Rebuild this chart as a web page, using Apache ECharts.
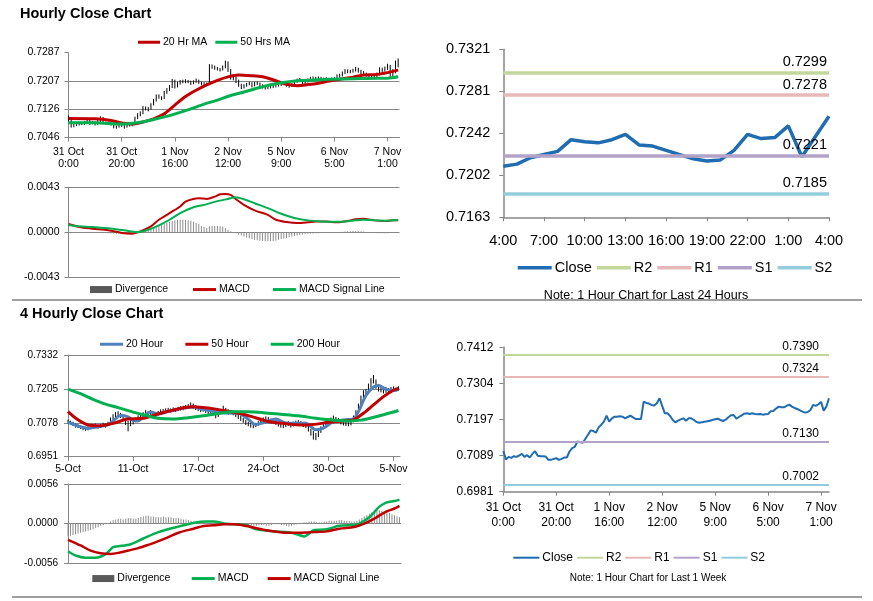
<!DOCTYPE html>
<html><head><meta charset="utf-8">
<script src="https://cdn.jsdelivr.net/npm/echarts@6.0.0/dist/echarts.min.js"></script>
<style>html,body{margin:0;padding:0;background:#fff}#c{width:873px;height:601px}</style>
</head><body><div id="c"></div>
<script>
// ================= DATA =================
// Hourly (last week) x-axis labels, placed at hour index
const hourLabels = ['31 Oct\n0:00','31 Oct\n20:00','1 Nov\n16:00','2 Nov\n12:00','5 Nov\n9:00','6 Nov\n5:00','7 Nov\n1:00'];
const hourLabelPos = [0,20,40,60,80,100,120];

// Panel 1: hourly price bars [low, high]
const p1YTicks = ['0.7046','0.7126','0.7207','0.7287'];
const hourlyBars = [
[0.7092,0.7108],[0.7074,0.7104],[0.7075,0.7090],[0.7078,0.7090],[0.7080,0.7091],[0.7081,0.7090],[0.7082,0.7093],[0.7086,0.7097],[0.7082,0.7096],[0.7083,0.7093],
[0.7080,0.7092],[0.7082,0.7098],[0.7090,0.7106],[0.7085,0.7104],[0.7083,0.7091],[0.7083,0.7091],[0.7080,0.7090],[0.7072,0.7088],[0.7071,0.7080],[0.7074,0.7083],
[0.7076,0.7086],[0.7071,0.7083],[0.7074,0.7083],[0.7077,0.7087],[0.7078,0.7088],[0.7082,0.7105],[0.7098,0.7115],[0.7106,0.7120],[0.7112,0.7135],[0.7123,0.7134],
[0.7120,0.7132],[0.7125,0.7143],[0.7137,0.7155],[0.7148,0.7168],[0.7156,0.7168],[0.7152,0.7163],[0.7155,0.7178],[0.7170,0.7186],[0.7178,0.7195],[0.7186,0.7212],
[0.7185,0.7210],[0.7188,0.7204],[0.7196,0.7209],[0.7200,0.7210],[0.7200,0.7211],[0.7200,0.7209],[0.7195,0.7207],[0.7197,0.7208],[0.7201,0.7213],[0.7198,0.7210],
[0.7194,0.7204],[0.7194,0.7203],[0.7194,0.7202],[0.7196,0.7254],[0.7241,0.7253],[0.7238,0.7250],[0.7236,0.7246],[0.7233,0.7243],[0.7236,0.7250],[0.7242,0.7264],
[0.7232,0.7262],[0.7210,0.7240],[0.7208,0.7222],[0.7200,0.7218],[0.7190,0.7210],[0.7183,0.7198],[0.7185,0.7197],[0.7190,0.7201],[0.7194,0.7204],[0.7188,0.7203],
[0.7191,0.7204],[0.7195,0.7205],[0.7190,0.7202],[0.7185,0.7197],[0.7182,0.7192],[0.7183,0.7193],[0.7185,0.7194],[0.7186,0.7195],[0.7188,0.7197],[0.7190,0.7199],
[0.7192,0.7201],[0.7194,0.7203],[0.7190,0.7202],[0.7187,0.7198],[0.7190,0.7200],[0.7194,0.7207],[0.7201,0.7213],[0.7205,0.7215],[0.7195,0.7212],[0.7197,0.7208],
[0.7202,0.7213],[0.7206,0.7218],[0.7209,0.7219],[0.7208,0.7218],[0.7209,0.7219],[0.7208,0.7218],[0.7207,0.7216],[0.7207,0.7217],[0.7206,0.7215],[0.7207,0.7216],
[0.7208,0.7217],[0.7210,0.7225],[0.7216,0.7227],[0.7219,0.7233],[0.7226,0.7240],[0.7228,0.7239],[0.7228,0.7238],[0.7230,0.7241],[0.7233,0.7246],[0.7230,0.7244],
[0.7226,0.7238],[0.7223,0.7234],[0.7219,0.7230],[0.7215,0.7226],[0.7212,0.7222],[0.7213,0.7223],[0.7216,0.7230],[0.7222,0.7245],[0.7230,0.7244],[0.7233,0.7247],
[0.7238,0.7255],[0.7218,0.7252],[0.7220,0.7240],[0.7228,0.7264],[0.7245,0.7270]];
const ma20Hr = [[0,0.7100],[10,0.7099],[16,0.7094],[20,0.7087],[24,0.7084],[28,0.7090],[32,0.7099],[36,0.7113],[40,0.7138],[44,0.7162],[48,0.7180],[52,0.7195],[56,0.7208],[60,0.7218],[64,0.7223],[69,0.7221],[73,0.7218],[76,0.7212],[79,0.7204],[82,0.7197],[86,0.7193],[90,0.7196],[94,0.7200],[98,0.7206],[102,0.7211],[107,0.7217],[111,0.7223],[116,0.7225],[120,0.7230],[124,0.7237]];
const ma50Hr = [[0,0.7088],[10,0.7088],[20,0.7084],[26,0.7088],[32,0.7097],[38,0.7108],[44,0.7122],[50,0.7138],[56,0.7152],[61,0.7165],[67,0.7177],[73,0.7190],[80,0.7201],[86,0.7207],[92,0.7209],[98,0.7211],[104,0.7212],[110,0.7213],[116,0.7214],[120,0.7214],[124,0.7218]];

// Panel 2: hourly MACD
const p2YTicks = ['-0.0043','0.0000','0.0043'];
const macd1h = [[0,0.00079],[4,0.00051],[9,0.00035],[15,0.00019],[20,-0.00006],[24,-0.00013],[27,0.00009],[31,0.00057],[34,0.0012],[38,0.00183],[42,0.00247],[44,0.00294],[47,0.00319],[49,0.00325],[52,0.00319],[55,0.00341],[57,0.00363],[59,0.00367],[61,0.00357],[63,0.00316],[66,0.00262],[70,0.00209],[75,0.00167],[78,0.0012],[82,0.00098],[86,0.00088],[90,0.00095],[93,0.00104],[97,0.00104],[101,0.00095],[105,0.00107],[108,0.00126],[111,0.0013],[115,0.00114],[119,0.00107],[122,0.00114],[124,0.00114]];
const signal1h = [[0,0.0007],[4,0.00057],[9,0.00051],[15,0.00038],[21,0.00019],[26,0.00003],[30,0.00025],[34,0.00066],[38,0.0012],[42,0.00183],[47,0.0024],[51,0.00262],[55,0.00291],[60,0.00319],[63,0.00335],[66,0.00316],[70,0.00278],[75,0.00231],[80,0.00177],[85,0.00136],[90,0.00114],[95,0.00104],[100,0.00101],[104,0.00104],[108,0.00114],[111,0.0012],[115,0.00114],[119,0.00111],[124,0.00117]];
const divergence1h = [
-0.00003,-0.00004,-0.00004,-0.00005,-0.00004,-0.00005,-0.00005,-0.00006,-0.00006,-0.00005,
-0.00006,-0.00007,-0.00007,-0.00008,-0.00008,-0.0001,-0.00011,-0.00012,-0.00013,-0.00014,
-0.00015,-0.00015,-0.00014,-0.00013,-0.0001,-0.00005,0.00005,0.0001,0.00018,0.00025,
0.00033,0.0004,0.0005,0.0006,0.0007,0.00078,0.00085,0.00092,0.001,0.00108,
0.00115,0.0012,0.0012,0.0012,0.00118,0.00115,0.0011,0.001,0.0009,0.0008,
0.0006,0.0005,0.0004,0.00055,0.0006,0.0006,0.0006,0.00058,0.00055,0.0004,
0.00025,0.0001,0.00002,-0.0001,-0.0002,-0.0003,-0.0004,-0.0005,-0.0006,-0.00065,
-0.0007,-0.00075,-0.0008,-0.00082,-0.00085,-0.00085,-0.00084,-0.00082,-0.0008,-0.00072,
-0.00065,-0.0006,-0.00054,-0.00048,-0.0004,-0.00035,-0.0003,-0.00025,-0.0002,-0.00017,
-0.00015,-0.00013,-0.00011,-0.0001,-0.00008,-0.00006,-0.00005,-0.00004,-0.00003,-0.00002,
-0.00001,0.00001,0.00003,0.00005,0.00007,0.00009,0.0001,0.00012,0.00012,0.00012,
0.0001,0.00008,0.00004,0,-0.00004,-0.00007,-0.0001,-0.0001,-0.0001,-0.00009,
-0.00008,-0.00006,-0.00004,-0.00002,-0.00001];

// Panel 3: last 24 hours close with pivots
const dayLabels = ['4:00','7:00','10:00','13:00','16:00','19:00','22:00','1:00','4:00'];
const dayLabelPos = [0,3,6,9,12,15,18,21,24];
const dayClose = [0.7211,0.7213,0.7219,0.7222,0.7225,0.7236,0.7234,0.7233,0.7236,0.7241,0.7231,0.7230,0.7226,0.7222,0.7218,0.7216,0.7217,0.7226,0.7241,0.7237,0.7238,0.7249,0.7220,0.7239,0.7258];
const pivotNames = ['R2','R1','S1','S2'];
const dayPivots = [0.7299,0.7278,0.7221,0.7185];
const p3YTicks = ['0.7163','0.7202','0.7242','0.7281','0.7321'];

// Panel 4: 4-hourly price bars [low, high] and moving averages
const fourHourLabels = ['5-Oct','11-Oct','17-Oct','24-Oct','30-Oct','5-Nov'];
const fourHourLabelPos = [0,26,52,78,104,130];
const p4YTicks = ['0.6951','0.7078','0.7205','0.7332'];
const fourHourBars = [
[0.7076,0.7090],[0.7072,0.7086],[0.7066,0.7082],[0.7060,0.7076],[0.7058,0.7072],[0.7055,0.7068],[0.7050,0.7066],[0.7048,0.7063],[0.7050,0.7065],[0.7054,0.7068],
[0.7058,0.7072],[0.7060,0.7075],[0.7056,0.7070],[0.7058,0.7074],[0.7062,0.7078],[0.7060,0.7076],[0.7066,0.7082],[0.7075,0.7098],[0.7090,0.7110],[0.7098,0.7118],
[0.7102,0.7121],[0.7096,0.7115],[0.7085,0.7106],[0.7070,0.7092],[0.7046,0.7085],[0.7065,0.7088],[0.7072,0.7090],[0.7080,0.7098],[0.7088,0.7106],[0.7095,0.7114],
[0.7100,0.7118],[0.7105,0.7125],[0.7102,0.7122],[0.7108,0.7126],[0.7104,0.7120],[0.7100,0.7118],[0.7105,0.7122],[0.7110,0.7128],[0.7112,0.7130],[0.7115,0.7132],
[0.7118,0.7134],[0.7116,0.7132],[0.7120,0.7136],[0.7118,0.7134],[0.7122,0.7138],[0.7124,0.7140],[0.7125,0.7142],[0.7128,0.7145],[0.7130,0.7148],[0.7135,0.7154],
[0.7130,0.7150],[0.7126,0.7144],[0.7122,0.7140],[0.7118,0.7136],[0.7120,0.7138],[0.7115,0.7132],[0.7110,0.7128],[0.7112,0.7130],[0.7105,0.7124],[0.7095,0.7118],
[0.7100,0.7120],[0.7110,0.7128],[0.7118,0.7142],[0.7112,0.7134],[0.7108,0.7128],[0.7110,0.7126],[0.7106,0.7124],[0.7100,0.7118],[0.7092,0.7112],[0.7085,0.7104],
[0.7078,0.7096],[0.7070,0.7088],[0.7065,0.7082],[0.7060,0.7078],[0.7058,0.7074],[0.7062,0.7078],[0.7068,0.7084],[0.7075,0.7092],[0.7080,0.7098],[0.7085,0.7102],
[0.7082,0.7100],[0.7076,0.7094],[0.7078,0.7096],[0.7070,0.7088],[0.7064,0.7082],[0.7060,0.7078],[0.7058,0.7076],[0.7062,0.7080],[0.7066,0.7084],[0.7060,0.7078],
[0.7064,0.7082],[0.7068,0.7086],[0.7072,0.7088],[0.7066,0.7084],[0.7062,0.7080],[0.7058,0.7076],[0.7045,0.7068],[0.7030,0.7055],[0.7015,0.7048],[0.7013,0.7040],
[0.7025,0.7052],[0.7040,0.7065],[0.7055,0.7076],[0.7065,0.7084],[0.7072,0.7090],[0.7080,0.7098],[0.7085,0.7105],[0.7082,0.7100],[0.7078,0.7096],[0.7072,0.7092],
[0.7068,0.7088],[0.7066,0.7086],[0.7065,0.7084],[0.7068,0.7090],[0.7080,0.7105],[0.7095,0.7125],[0.7115,0.7150],[0.7140,0.7180],[0.7160,0.7200],[0.7175,0.7205],
[0.7190,0.7225],[0.7210,0.7245],[0.7225,0.7257],[0.7205,0.7240],[0.7195,0.7222],[0.7192,0.7215],[0.7188,0.7210],[0.7190,0.7212],[0.7192,0.7208],[0.7194,0.7212],
[0.7196,0.7214],[0.7195,0.7210],[0.7198,0.7215]];
const ma20Four = [[0,0.7080],[4,0.7066],[8,0.7057],[12,0.7063],[16,0.7070],[18,0.7085],[21,0.7105],[24,0.7100],[26,0.7087],[28,0.7085],[30,0.7098],[33,0.7118],[36,0.7111],[40,0.7120],[45,0.7131],[50,0.7137],[54,0.7128],[58,0.7121],[62,0.7115],[68,0.7114],[72,0.7091],[75,0.7071],[79,0.7081],[83,0.7092],[87,0.7077],[91,0.7076],[95,0.7076],[99,0.7052],[102,0.7058],[106,0.7082],[110,0.7089],[114,0.7093],[116,0.7120],[119,0.7180],[122,0.7212],[124,0.7218],[127,0.7203],[130,0.7200],[132,0.7203]];
const ma50Four = [[0,0.7120],[4,0.7089],[8,0.7070],[13,0.7067],[18,0.7076],[24,0.7092],[30,0.7095],[37,0.7114],[44,0.7130],[50,0.7138],[57,0.7132],[64,0.7121],[72,0.7105],[80,0.7083],[86,0.7076],[91,0.7071],[96,0.7070],[100,0.7074],[104,0.7080],[110,0.7085],[114,0.7089],[118,0.7114],[122,0.7145],[126,0.7176],[130,0.7200],[132,0.7207]];
const ma200Four = [[0,0.7204],[5,0.7187],[10,0.7166],[15,0.7148],[20,0.7135],[26,0.7118],[31,0.7106],[36,0.7095],[42,0.7092],[48,0.7097],[54,0.7104],[60,0.7113],[66,0.7119],[72,0.7119],[78,0.7116],[85,0.7110],[92,0.7104],[99,0.7095],[106,0.7088],[113,0.7085],[117,0.7088],[121,0.7096],[126,0.7108],[132,0.7124]];

// Panel 5: 4-hourly MACD
const p5YTicks = ['-0.0056','0.0000','0.0056'];
const macd4h = [[0,-0.0039],[3,-0.0045],[7,-0.0048],[11,-0.0048],[15,-0.0043],[18,-0.0033],[20,-0.0032],[25,-0.0029],[30,-0.0021],[36,-0.0012],[43,-0.0005],[50,0.0001],[55,0.0003],[58,0.0003],[63,0],[71,-0.0002],[74,-0.0007],[77,-0.0009],[82,-0.0011],[88,-0.0012],[92,-0.0016],[94,-0.0018],[98,-0.0009],[103,-0.0008],[108,-0.0003],[114,-0.0002],[116,0],[120,0.0009],[124,0.0024],[127,0.0030],[130,0.0032],[132,0.0034]];
const signal4h = [[0,-0.00228],[5,-0.00308],[9,-0.0038],[13,-0.00418],[17,-0.00427],[20,-0.00413],[24,-0.0038],[28,-0.00346],[32,-0.00299],[36,-0.00247],[40,-0.0019],[44,-0.00128],[50,-0.00071],[54,-0.00033],[58,-0.00024],[62,-0.0001],[66,-0.0001],[71,-0.00033],[76,-0.00071],[82,-0.00109],[87,-0.00128],[92,-0.00128],[98,-0.00119],[103,-0.00109],[108,-0.00071],[114,-0.00047],[118,0],[122,0.00071],[126,0.00157],[130,0.00214],[132,0.00252]];
const divergence4h = [
-0.0018,-0.0017,-0.0016,-0.0015,-0.0014,-0.0013,-0.0012,-0.0011,-0.001,-0.0009,
-0.0008,-0.0006,-0.0005,-0.0003,-0.0002,-0.0001,0.0001,0.0003,0.0005,0.0006,
0.0007,0.0007,0.0006,0.0007,0.0008,0.0008,0.0007,0.0007,0.0008,0.0009,
0.001,0.0011,0.0011,0.001,0.001,0.0009,0.0009,0.0009,0.001,0.0009,
0.0009,0.0009,0.0008,0.0008,0.0008,0.0007,0.0006,0.0006,0.0005,0.0004,
0.0003,0.0003,0.0002,0.0001,0.0001,0,0,0.0001,0,-0.0001,
0,0,-0.0001,-0.0001,-0.0001,-0.0002,-0.0002,-0.0003,-0.0003,-0.0003,
-0.0004,-0.0004,-0.0004,-0.0003,-0.0003,-0.0003,-0.0002,-0.0002,-0.0002,-0.0003,
-0.0003,-0.0002,-0.0001,-0.0001,-0.0001,-0.0002,-0.0002,-0.0003,-0.0004,-0.0003,
-0.0002,-0.0001,0,0.0001,0.0002,0.0002,0.0003,0.0003,0.0003,0.0002,
0.0002,0.0002,0.0003,0.0003,0.0004,0.0004,0.0004,0.0004,0.0005,0.0005,
0.0004,0.0004,0.0004,0.0003,0.0003,0.0004,0.0006,0.0008,0.001,0.0012,
0.0014,0.0016,0.0018,0.0019,0.0019,0.0018,0.0017,0.0016,0.0015,0.0013,
0.0012,0.001,0.0009];

// Panel 6: hourly close for the last week with pivots
const weekClose = [
0.7102,0.7077,0.7085,0.7082,0.7087,0.7085,0.7089,0.7094,0.7085,0.7090,
0.7083,0.7094,0.7102,0.7088,0.7087,0.7087,0.7086,0.7076,0.7076,0.7079,
0.7081,0.7076,0.7079,0.7083,0.7083,0.7101,0.7111,0.7115,0.7131,0.7129,
0.7127,0.7139,0.7151,0.7164,0.7162,0.7157,0.7173,0.7181,0.7190,0.7208,
0.7190,0.7200,0.7205,0.7205,0.7206,0.7205,0.7200,0.7204,0.7208,0.7203,
0.7198,0.7198,0.7198,0.7250,0.7246,0.7244,0.7240,0.7238,0.7245,0.7260,
0.7237,0.7215,0.7215,0.7207,0.7195,0.7188,0.7193,0.7197,0.7200,0.7193,
0.7200,0.7200,0.7195,0.7189,0.7187,0.7188,0.7190,0.7191,0.7193,0.7195,
0.7197,0.7199,0.7195,0.7192,0.7196,0.7203,0.7209,0.7210,0.7199,0.7204,
0.7209,0.7214,0.7215,0.7213,0.7215,0.7213,0.7212,0.7213,0.7211,0.7212,
0.7213,0.7221,0.7222,0.7229,0.7235,0.7233,0.7233,0.7237,0.7241,0.7235,
0.7231,0.7228,0.7224,0.7220,0.7217,0.7219,0.7225,0.7240,0.7237,0.7242,
0.7249,0.7223,0.7235,0.7260];
const weekPivots = [0.7390,0.7324,0.7130,0.7002];
const p6YTicks = ['0.6981','0.7089','0.7197','0.7304','0.7412'];

// ================= CHART =================
const FONT = '"Liberation Sans", Arial, sans-serif';
const GRAY = '#868686';
const RED = '#c00000', GREEN = '#00b050', BLUE = '#4f81bd', CLOSE = '#1f6cb0';
const PIVOT_COLORS = ['#c3d69b','#e6b9b8','#b3a2c7','#93cddd'];
const strip = n => n.split('|')[1];

function yAx(gi, ticks, o) {
  const mn = parseFloat(ticks[0]), mx = parseFloat(ticks[ticks.length - 1]);
  const iv = (mx - mn) / (ticks.length - 1);
  return {
    type: 'value', gridIndex: gi, min: mn, max: mx, interval: iv, scale: true,
    axisLine: {show: true, onZero: false, lineStyle: {color: GRAY, width: o.aw || 1}},
    axisTick: {show: true, length: 4, lineStyle: {color: GRAY}},
    axisLabel: {fontSize: o.fs, color: '#000', fontFamily: FONT, margin: o.margin,
      formatter: v => { const k = Math.round((v - mn) / iv); return ticks[k] !== undefined ? ticks[k] : ''; }},
    splitLine: {show: !!o.split, showMinLine: false, showMaxLine: !!o.maxLine, lineStyle: {color: GRAY, width: 1}}
  };
}
function xAx(gi, mx, pos, labels, o) {
  return {
    type: 'value', gridIndex: gi, min: 0, max: mx,
    axisLine: {show: true, onZero: false, lineStyle: {color: GRAY, width: o.aw || 1}},
    axisTick: {show: !!labels, length: 4, customValues: pos, lineStyle: {color: GRAY}},
    axisLabel: {show: !!labels, customValues: pos, fontSize: o.fs, lineHeight: o.lh, margin: o.margin,
      color: '#000', fontFamily: FONT,
      formatter: v => { const k = pos.indexOf(v); return k >= 0 ? labels[k] : ''; }},
    splitLine: {show: false}
  };
}
function barSeries(name, xi, bars) {
  return {
    type: 'custom', name: name, xAxisIndex: xi, yAxisIndex: xi, silent: true,
    data: bars.map((b, i) => [i, b[0], b[1]]), encode: {x: 0, y: [1, 2]},
    renderItem: (p, api) => {
      const a = api.coord([api.value(0), api.value(1)]);
      const b = api.coord([api.value(0), api.value(2)]);
      return {type: 'line', shape: {x1: a[0], y1: a[1], x2: b[0], y2: b[1]}, style: {stroke: '#000', lineWidth: 1}};
    }
  };
}
function lineSeries(name, xi, data, color, width, smooth) {
  return {type: 'line', name: name, xAxisIndex: xi, yAxisIndex: xi, data: data, color: color,
    showSymbol: false, smooth: smooth, lineStyle: {color: color, width: width}, silent: true};
}
function divSeries(name, xi, vals) {
  return {type: 'bar', name: name, xAxisIndex: xi, yAxisIndex: xi, data: vals.map((v, i) => [i, v]),
    barWidth: 1, color: '#8c8c8c', silent: true};
}
function pivotSeries(prefix, xi, k, values, width, fs, dist) {
  return {type: 'line', name: prefix + pivotNames[k], xAxisIndex: xi, yAxisIndex: xi, data: [],
    color: PIVOT_COLORS[k],
    markLine: {symbol: ['none', 'none'], silent: true, animation: false, precision: 4,
      data: [{yAxis: values[k]}],
      lineStyle: {color: PIVOT_COLORS[k], width: width, type: 'solid'},
      emphasis: {disabled: true},
      label: {show: true, position: 'insideEndTop', formatter: values[k].toFixed(4),
        color: '#000', fontSize: fs, fontFamily: FONT, distance: dist}}};
}
function legend(names, left, centerY, o) {
  return {data: names.map(n => (typeof n === 'string' ? {name: n} : n)), left: left, top: centerY - o.fs / 2,
    orient: 'horizontal', padding: 0, icon: 'rect', itemWidth: o.w, itemHeight: o.h, itemGap: o.gap,
    selectedMode: false, formatter: strip,
    textStyle: {fontSize: o.fs, color: '#000', fontFamily: FONT, padding: [0, 0, 0, -2]}};
}

const series = [];
// panel 1
series.push(barSeries('p1|bars', 0, hourlyBars));
series.push(lineSeries('p1|20 Hr MA', 0, ma20Hr, RED, 3, 0.3));
series.push(lineSeries('p1|50 Hrs MA', 0, ma50Hr, GREEN, 3, 0.3));
// panel 2
series.push(divSeries('p2|Divergence', 1, divergence1h));
series.push(lineSeries('p2|MACD', 1, macd1h, RED, 2, 0.3));
series.push(lineSeries('p2|MACD Signal Line', 1, signal1h, GREEN, 2, 0.3));
// panel 3
series.push(lineSeries('p3|Close', 2, dayClose.map((v, i) => [i, v]), CLOSE, 3.5, false));
for (let k = 0; k < 4; k++) series.push(pivotSeries('p3|', 2, k, dayPivots, 3.5, 14.5, [2, 3]));
// panel 4
series.push(barSeries('p4|bars', 3, fourHourBars));
series.push(lineSeries('p4|20 Hour', 3, ma20Four, BLUE, 3, 0.3));
series.push(lineSeries('p4|50 Hour', 3, ma50Four, RED, 3, 0.3));
series.push(lineSeries('p4|200 Hour', 3, ma200Four, GREEN, 3, 0.3));
// panel 5
series.push(divSeries('p5|Divergence', 4, divergence4h));
series.push(lineSeries('p5|MACD', 4, macd4h, GREEN, 2.5, 0.3));
series.push(lineSeries('p5|MACD Signal Line', 4, signal4h, RED, 2.5, 0.3));
// panel 6
series.push(lineSeries('p6|Close', 5, weekClose.map((v, i) => [i, v]), CLOSE, 2, false));
for (let k = 0; k < 4; k++) series.push(pivotSeries('p6|', 5, k, weekPivots, 2, 12, [10, 2]));

const option = {
  animation: false,
  backgroundColor: '#fff',
  grid: [
    {left: 68.5, top: 52.5, width: 331, height: 85},
    {left: 68.5, top: 187.3, width: 331, height: 90},
    {left: 503.3, top: 49.3, width: 325.7, height: 168},
    {left: 68, top: 355, width: 332, height: 101.7},
    {left: 68, top: 484, width: 333, height: 79.3},
    {left: 503.3, top: 347.3, width: 325.7, height: 144.4}
  ],
  xAxis: [
    xAx(0, 124.5, hourLabelPos, hourLabels, {fs: 10.5, lh: 12.5, margin: 8}),
    xAx(1, 124.5, hourLabelPos, null, {}),
    xAx(2, 24, dayLabelPos, dayLabels, {fs: 14.5, lh: 16, margin: 16, aw: 1.5}),
    xAx(3, 132.6, fourHourLabelPos, fourHourLabels, {fs: 10.5, lh: 12, margin: 6}),
    xAx(4, 132.6, fourHourLabelPos, null, {}),
    xAx(5, 123, hourLabelPos, hourLabels, {fs: 12, lh: 14.5, margin: 9, aw: 1.5})
  ],
  yAxis: [
    yAx(0, p1YTicks, {fs: 10.5, margin: 9, split: true, maxLine: false}),
    yAx(1, p2YTicks, {fs: 10.5, margin: 9, split: true, maxLine: true}),
    yAx(2, p3YTicks, {fs: 14.5, margin: 13, split: false, aw: 1.5}),
    yAx(3, p4YTicks, {fs: 10, margin: 10, split: true, maxLine: false}),
    yAx(4, p5YTicks, {fs: 10, margin: 10, split: true, maxLine: true}),
    yAx(5, p6YTicks, {fs: 12, margin: 10, split: false, aw: 1.5})
  ],
  legend: [
    legend(['p1|20 Hr MA', 'p1|50 Hrs MA'], 138, 42, {fs: 10.5, w: 22, h: 3, gap: 8}),
    legend([{name: 'p2|Divergence', itemStyle: {color: '#595959'}}], 90, 289.3, {fs: 10.5, w: 22, h: 7, gap: 8}),
    legend(['p2|MACD', 'p2|MACD Signal Line'], 193, 289.3, {fs: 10.5, w: 23, h: 3, gap: 23}),
    legend(['p3|Close', 'p3|R2', 'p3|R1', 'p3|S1', 'p3|S2'], 517.7, 267.5, {fs: 14.5, w: 34, h: 3.5, gap: 5}),
    legend(['p4|20 Hour', 'p4|50 Hour', 'p4|200 Hour'], 100, 344, {fs: 10.5, w: 23, h: 3, gap: 22}),
    legend([{name: 'p5|Divergence', itemStyle: {color: '#595959'}}], 92.3, 578.3, {fs: 10.5, w: 22, h: 7, gap: 8}),
    legend(['p5|MACD', 'p5|MACD Signal Line'], 191.7, 578.3, {fs: 10.5, w: 23, h: 3, gap: 19}),
    legend(['p6|Close', 'p6|R2', 'p6|R1', 'p6|S1', 'p6|S2'], 513.3, 557.7, {fs: 12, w: 26, h: 2, gap: 4})
  ],
  graphic: [
    {type: 'text', x: 20, y: 13.5, style: {text: 'Hourly Close Chart', fontSize: 14.5, fontWeight: 'bold', fontFamily: FONT, fill: '#000', verticalAlign: 'middle'}},
    {type: 'text', x: 20, y: 313.5, style: {text: '4 Hourly Close Chart', fontSize: 14.5, fontWeight: 'bold', fontFamily: FONT, fill: '#000', verticalAlign: 'middle'}},
    {type: 'text', x: 646, y: 296, style: {text: 'Note: 1 Hour Chart for Last 24 Hours', fontSize: 12.5, fontFamily: FONT, fill: '#000', align: 'center', verticalAlign: 'middle'}},
    {type: 'text', x: 648, y: 578, style: {text: 'Note: 1 Hour Chart for Last 1 Week', fontSize: 10, fontFamily: FONT, fill: '#000', align: 'center', verticalAlign: 'middle'}},
    {type: 'line', shape: {x1: 12, y1: 300, x2: 862, y2: 300}, style: {stroke: '#7f7f7f', lineWidth: 1.5}},
    {type: 'line', shape: {x1: 12, y1: 597, x2: 862, y2: 597}, style: {stroke: '#7f7f7f', lineWidth: 1.5}}
  ],
  series: series
};
const chart = echarts.init(document.getElementById('c'), null, {renderer: 'canvas'});
chart.setOption(option);
</script></body></html>
